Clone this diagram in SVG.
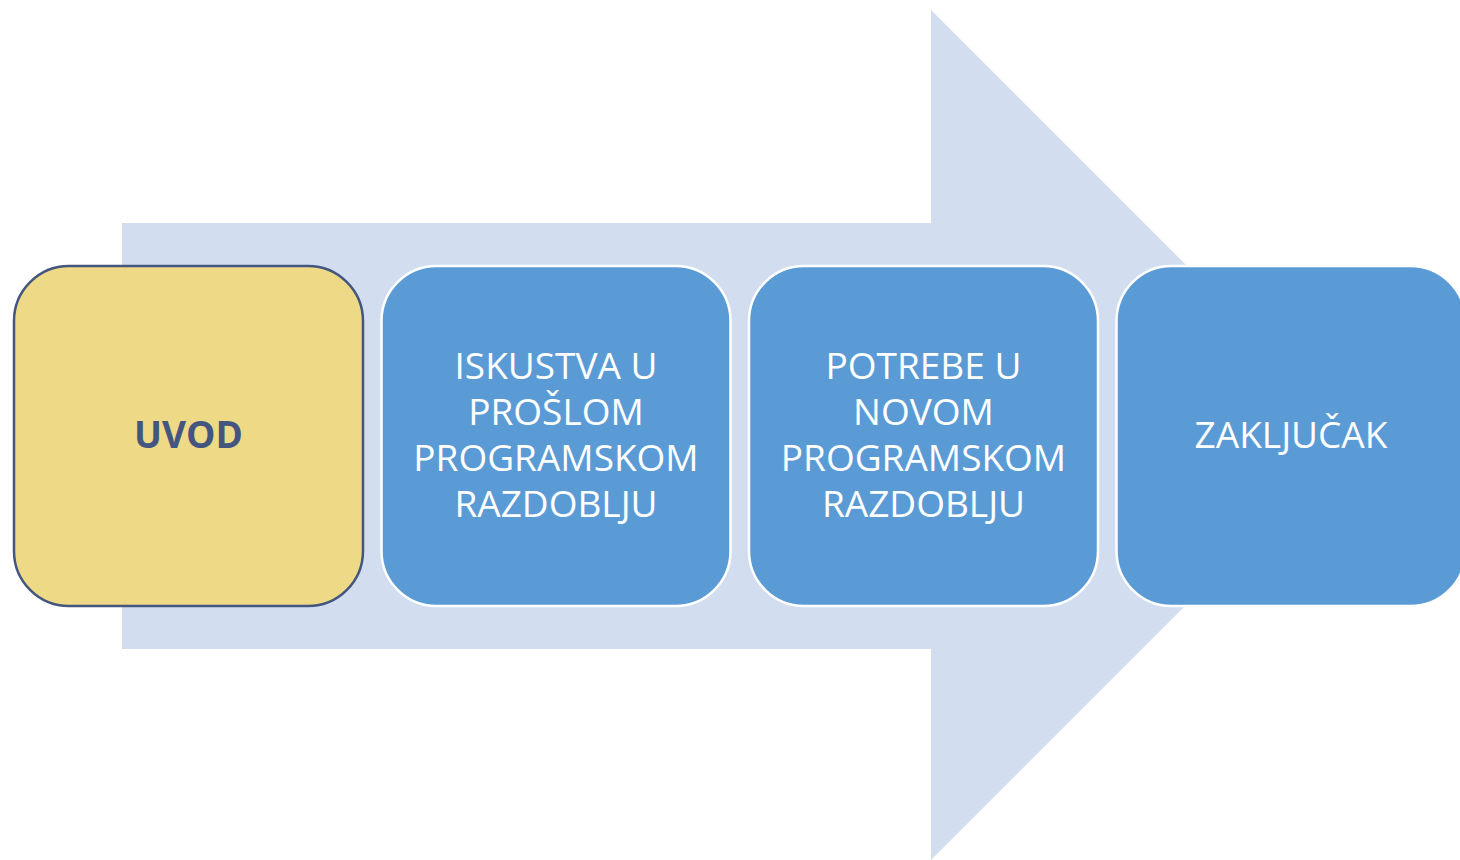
<svg xmlns="http://www.w3.org/2000/svg" width="1460" height="860" viewBox="0 0 1460 860">
<style>
.lbl{font-family:"Open Sans","Liberation Sans",sans-serif;font-size:37px;text-anchor:middle;fill:#FFFFFF}
.blue{fill:#5B9BD5;stroke:#FFFFFF;stroke-width:2.5}
</style>
<rect width="1460" height="860" fill="#FFFFFF"/>
<g id="arrow">
<polygon points="122,223 931,223 931,10 1356,435 931,860 931,649 122,649" fill="#D2DEEF"/>
</g>
<g id="uvod">
<rect x="14" y="266" width="349" height="340" rx="55" fill="#EED987" stroke="#44557F" stroke-width="2.5"/>
<text class="lbl" x="188.5" y="448" style="font-weight:bold;fill:#44557F">UVOD</text>
</g>
<g id="iskustva">
<rect class="blue" x="381.5" y="266" width="349" height="340" rx="55"/>
<text class="lbl" x="556" y="379">ISKUSTVA U</text>
<text class="lbl" x="556" y="425">PROŠLOM</text>
<text class="lbl" x="556" y="471">PROGRAMSKOM</text>
<text class="lbl" x="556" y="517">RAZDOBLJU</text>
</g>
<g id="potrebe">
<rect class="blue" x="749" y="266" width="349" height="340" rx="55"/>
<text class="lbl" x="923.5" y="379">POTREBE U</text>
<text class="lbl" x="923.5" y="425">NOVOM</text>
<text class="lbl" x="923.5" y="471">PROGRAMSKOM</text>
<text class="lbl" x="923.5" y="517">RAZDOBLJU</text>
</g>
<g id="zakljucak">
<rect class="blue" x="1116.5" y="266" width="349" height="340" rx="55"/>
<text class="lbl" x="1291" y="448">ZAKLJUČAK</text>
</g>
<g id="connectors"></g>
</svg>
